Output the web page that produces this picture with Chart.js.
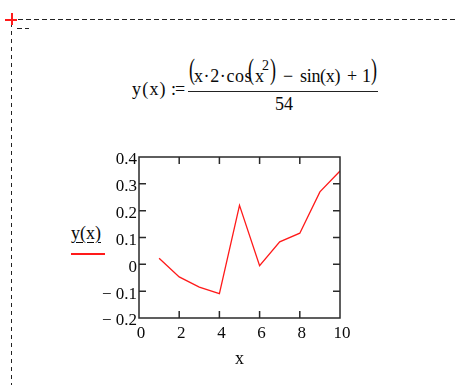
<!DOCTYPE html>
<html>
<head>
<meta charset="utf-8">
<script src="https://cdn.jsdelivr.net/npm/chart.js@4"></script>
<style>
  html, body { margin: 0; padding: 0; background: #fff; }
  body { width: 455px; height: 385px; position: relative; overflow: hidden;
         font-family: "Liberation Serif", "Times New Roman", serif; color: #0a0a0a; }
  #plot { position: absolute; left: 0; top: 0; }
  .t { position: absolute; white-space: nowrap; line-height: 18px; font-size: 18px; }
  .big { transform: translateY(-7px) scaleY(1.67); transform-origin: 50% 50%; }
  .hdash { position: absolute; height: 1px;
           background: repeating-linear-gradient(to right, #222 0 5px, transparent 5px 8px); }
  .vdash { position: absolute; width: 1px;
           background: repeating-linear-gradient(to bottom, #222 0 4px, transparent 4px 8px); }
  .red { position: absolute; background: #ff1a1a; z-index: 5; }
</style>
</head>
<body>
<!-- region frame -->
<div class="hdash" style="left:18px; top:19px; width:437px;"></div>
<div class="vdash" style="left:11px; top:23px; height:362px;"></div>
<div class="hdash" style="left:17px; top:28px; width:12px;"></div>
<div class="red" style="left:5px; top:19px; width:12px; height:1.5px;"></div>
<div class="red" style="left:11px; top:13px; width:1.5px; height:12px;"></div>

<!-- definition of y(x) -->
<span class="t" style="left:132px; top:80px; letter-spacing:1.2px;">y(x)</span>
<span class="t" style="left:171px; top:80px; letter-spacing:-1px;">:=</span>
<span class="t big" style="left:189px; top:67px;">(</span>
<span class="t" style="left:194px; top:67px; letter-spacing:0.6px;">x·2·cos</span>
<span class="t big" style="left:248px; top:67px;">(</span>
<span class="t" style="left:255px; top:67px;">x</span>
<span class="t" style="left:262px; top:59px; font-size:14px; line-height:14px;">2</span>
<span class="t big" style="left:270px; top:67px;">)</span>
<span class="t" style="left:283px; top:67px;">−</span>
<span class="t" style="left:300px; top:67px; letter-spacing:-0.3px;">sin(x)</span>
<span class="t" style="left:347px; top:67px;">+</span>
<span class="t" style="left:362px; top:67px;">1</span>
<span class="t big" style="left:371px; top:67px;">)</span>
<div style="position:absolute; left:188px; top:91px; width:190px; height:1px; background:#222;"></div>
<span class="t" style="left:275px; top:95px;">54</span>

<!-- trace legend -->
<span class="t" style="left:71px; top:224px; text-decoration: underline; text-underline-offset: 3px;">y(x)</span>
<div class="red" style="left:71px; top:253px; width:34px; height:1.5px;"></div>

<canvas id="plot" width="455" height="385"></canvas>

<script>
// y(x) sampled at the integers 1..10
const xValues = [1, 2, 3, 4, 5, 6, 7, 8, 9, 10];
const yValues = [0.023, -0.047, -0.085, -0.109, 0.220, -0.005, 0.084, 0.116, 0.270, 0.348];
const xTicks = [0, 2, 4, 6, 8, 10];
const yTicks = [-0.2, -0.1, 0, 0.1, 0.2, 0.3, 0.4];

const TICK_LEN = 7;

// box around the plot plus short inward ticks on all four sides
const frameTicks = {
    id: 'frameTicks',
    afterDatasetsDraw(chart) {
        const { ctx, chartArea: a, scales } = chart;
        ctx.save();
        ctx.strokeStyle = '#2a2a2a';
        ctx.lineWidth = 1.5;
        ctx.beginPath();
        xTicks.slice(1, -1).forEach(v => {
            const px = scales.x.getPixelForValue(v);
            ctx.moveTo(px, a.bottom); ctx.lineTo(px, a.bottom - TICK_LEN);
            ctx.moveTo(px, a.top); ctx.lineTo(px, a.top + TICK_LEN);
        });
        yTicks.slice(1, -1).forEach(v => {
            const py = scales.y.getPixelForValue(v);
            ctx.moveTo(a.left, py); ctx.lineTo(a.left + TICK_LEN, py);
            ctx.moveTo(a.right, py); ctx.lineTo(a.right - TICK_LEN, py);
        });
        ctx.stroke();
        ctx.strokeRect(a.left, a.top, a.right - a.left, a.bottom - a.top);
        ctx.restore();
    }
};

function yLabel(v) {
    if (Math.abs(v) < 1e-9) return '0';
    return v < 0 ? '\u2212 ' + Math.abs(v).toFixed(1) : v.toFixed(1);
}

const font = { family: '"Liberation Serif", "Times New Roman", serif', size: 17 };

new Chart(document.getElementById('plot'), {
    type: 'line',
    data: {
        datasets: [{
            data: xValues.map((x, i) => ({ x: x, y: yValues[i] })),
            borderColor: '#ff1a1a',
            borderWidth: 1.3,
            pointRadius: 0,
            tension: 0,
            fill: false
        }]
    },
    options: {
        responsive: false,
        animation: false,
        devicePixelRatio: 1,
        layout: { padding: { top: 157, left: 0, right: 115, bottom: 0 } },
        plugins: { legend: { display: false }, tooltip: { enabled: false } },
        scales: {
            x: {
                type: 'linear',
                min: 0, max: 10,
                grid: { display: false, drawTicks: false },
                border: { display: false },
                afterBuildTicks: s => { s.ticks = xTicks.map(v => ({ value: v })); },
                afterFit: s => { s.height = 67; },
                ticks: { color: '#0a0a0a', font: font, padding: 5, labelOffset: 2, maxRotation: 0,
                         callback: v => String(v) },
                title: { display: true, text: 'x', color: '#0a0a0a', font: { ...font, size: 18 },
                         padding: { top: 0, bottom: 15 } }
            },
            y: {
                min: -0.2, max: 0.4,
                grid: { display: false, drawTicks: false },
                border: { display: false },
                afterBuildTicks: s => { s.ticks = yTicks.map(v => ({ value: v })); },
                afterFit: s => { s.width = 139; },
                ticks: { color: '#0a0a0a', font: font, padding: 2, labelOffset: 3,
                         callback: v => yLabel(v) }
            }
        }
    },
    plugins: [frameTicks]
});
</script>
</body>
</html>
